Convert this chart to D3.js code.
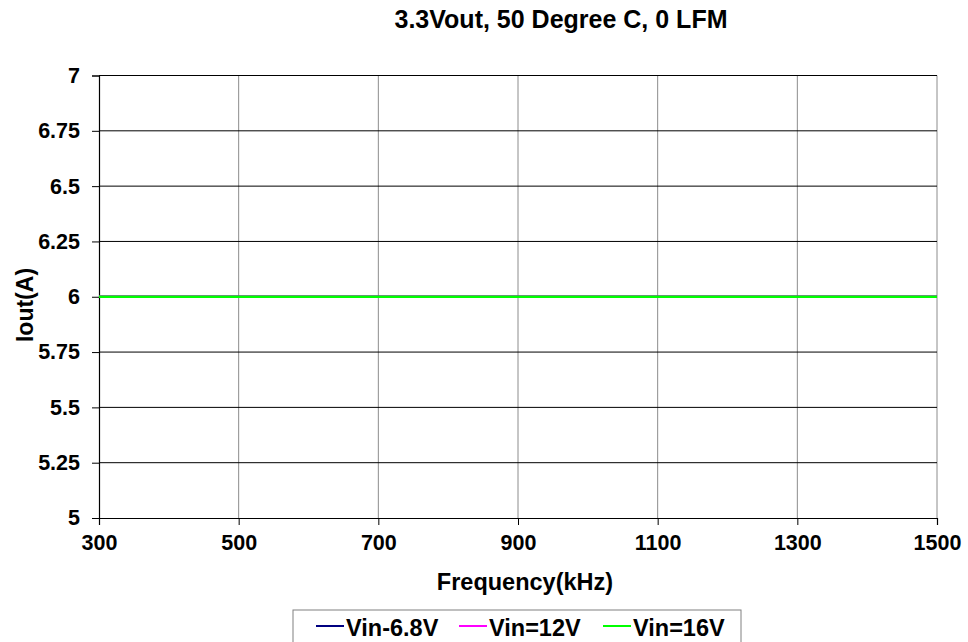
<!DOCTYPE html>
<html><head><meta charset="utf-8">
<script src="https://cdn.jsdelivr.net/npm/d3@7"></script>
<style>body{margin:0;background:#fff}svg{display:block}text{font-family:"Liberation Sans",Arial,sans-serif;font-weight:bold;fill:#000}</style>
</head><body>
<script>
const freqs = [300, 500, 700, 900, 1100, 1300, 1500];
const vin68 = [6, 6, 6, 6, 6, 6, 6];
const vin12 = [6, 6, 6, 6, 6, 6, 6];
const vin16 = [6, 6, 6, 6, 6, 6, 6];
const seriesNames = ["Vin-6.8V", "Vin=12V", "Vin=16V"];
const seriesColors = ["#000080", "#ff00ff", "#00ff00"];
const xTicks = [300, 500, 700, 900, 1100, 1300, 1500];
const yTicks = [5, 5.25, 5.5, 5.75, 6, 6.25, 6.5, 6.75, 7];
const title = "3.3Vout, 50 Degree C, 0 LFM";

const W = 968, H = 642;
const m = {l: 99, r: 937, t: 75.5, b: 518};
const svg = d3.select("body").append("svg").attr("width", W).attr("height", H);
const x = d3.scaleLinear().domain([300, 1500]).range([m.l, m.r]);
const y = d3.scaleLinear().domain([5, 7]).range([m.b, m.t]);

// vertical grid (gray)
svg.append("g").selectAll("line").data(xTicks.slice(1)).join("line")
  .attr("x1", d => x(d)).attr("x2", d => x(d)).attr("y1", m.t).attr("y2", m.b)
  .attr("stroke", "#8c8c8c").attr("stroke-width", 1);
// horizontal grid (black)
svg.append("g").selectAll("line").data(yTicks.slice(1)).join("line")
  .attr("x1", m.l).attr("x2", m.r).attr("y1", d => y(d)).attr("y2", d => y(d))
  .attr("stroke", "#000").attr("stroke-width", 1);

const xAxis = svg.append("g").attr("transform", `translate(0,${m.b})`)
  .call(d3.axisBottom(x).tickValues(xTicks).tickSize(7).tickPadding(10).tickFormat(d3.format("d")));
const yAxis = svg.append("g").attr("transform", `translate(${m.l},0)`)
  .call(d3.axisLeft(y).tickValues(yTicks).tickSize(7).tickPadding(12).tickFormat(d => String(d)));
[xAxis, yAxis].forEach(g => {
  g.select(".domain").attr("stroke", "#000").attr("stroke-width", 1.2);
  g.selectAll(".tick line").attr("stroke", "#000");
  g.selectAll("text").attr("font-size", 21.5).attr("font-family", '"Liberation Sans",Arial,sans-serif').attr("font-weight", "bold").attr("fill", "#000");
});

const seriesData = [vin68, vin12, vin16];
const line = d3.line().x((d, i) => x(freqs[i])).y(d => y(d));
seriesData.forEach((s, i) => {
  svg.append("path").datum(s).attr("d", line).attr("fill", "none")
    .attr("stroke", seriesColors[i]).attr("stroke-width", 2.5);
});

svg.append("text").attr("x", 561).attr("y", 28).attr("text-anchor", "middle")
  .attr("font-size", 25).text(title);
svg.append("text").attr("x", 525).attr("y", 590).attr("text-anchor", "middle")
  .attr("font-size", 23.5).text("Frequency(kHz)");
svg.append("text").attr("transform", `translate(33,305) rotate(-90)`).attr("text-anchor", "middle")
  .attr("font-size", 23).text("Iout(A)");

// legend
const lg = svg.append("g");
lg.append("rect").attr("x", 293).attr("y", 610).attr("width", 448).attr("height", 40)
  .attr("fill", "#fff").attr("stroke", "#808080").attr("stroke-width", 1);
const lx = [316, 459, 603];
seriesNames.forEach((n, i) => {
  lg.append("line").attr("x1", lx[i]).attr("x2", lx[i] + 28).attr("y1", 626).attr("y2", 626)
    .attr("stroke", seriesColors[i]).attr("stroke-width", 2);
  lg.append("text").attr("x", lx[i] + 30).attr("y", 636).attr("font-size", 23.5).text(n);
});
</script>
</body></html>
